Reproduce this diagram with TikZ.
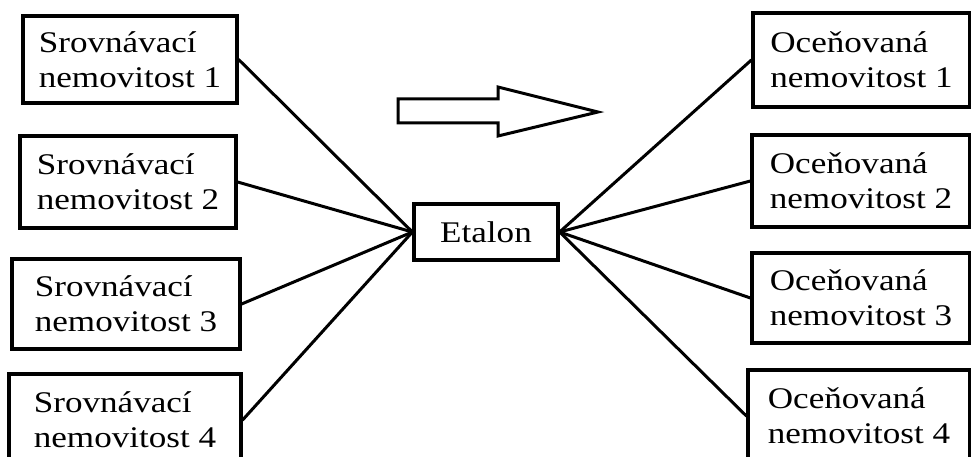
\documentclass[tikz,border=0pt]{standalone}
\usepackage{fontspec}
\setmainfont{Liberation Serif}[FakeStretch=1.17]
\usepackage{tikz}
\tikzset{
        boxnode/.style = {draw=black, line width=3.2pt, fill=white,
            rectangle, inner sep=0pt, align=left,
            font=\fontsize{30}{35}\selectfont},
        nem_l/.style = {boxnode},
        nem_r/.style = {boxnode},
        etal_n/.style = {boxnode, minimum width=144pt, minimum height=56pt},
        spoj/.style = {line width=3pt, line cap=round}
    }
\begin{document}
\begin{tikzpicture}[x=1pt,y=-1pt]
    \useasboundingbox (0,0) rectangle (971,457);
    \node [etal_n] (etalon) at (486,232) {Etalon}; % CENTRE
    % srovnavaci (left)
    \node [nem_l, minimum width=214pt, minimum height=87pt] (s1) at (130,59.5)
        {Srovnávací\\nemovitost~1};
    \node [nem_l, minimum width=216pt, minimum height=92pt] (s2) at (128,182)
        {Srovnávací\\nemovitost~2};
    \node [nem_l, minimum width=228pt, minimum height=90pt] (s3) at (126,304)
        {Srovnávací\\nemovitost~3};
    \node [nem_l, minimum width=232pt, minimum height=92pt] (s4) at (125,420)
        {Srovnávací\\nemovitost~4};
    % ocenovane (right)
    \node [nem_r, minimum width=217pt, minimum height=94pt] (o1) at (861.5,60)
        {Oceňovaná\\nemovitost~1};
    \node [nem_r, minimum width=218pt, minimum height=92pt] (o2) at (861,181)
        {Oceňovaná\\nemovitost~2};
    \node [nem_r, minimum width=218pt, minimum height=90pt] (o3) at (861,298)
        {Oceňovaná\\nemovitost~3};
    \node [nem_r, minimum width=222pt, minimum height=92pt] (o4) at (859,416)
        {Oceňovaná\\nemovitost~4};
    % spojnice
    \draw [spoj] (s1.east) -- (etalon.west);
    \draw [spoj] (s2.east) -- (etalon.west);
    \draw [spoj] (s3.east) -- (etalon.west);
    \draw [spoj] (s4.east) -- (etalon.west);
    \draw [spoj] (etalon.east) -- (o1.west);
    \draw [spoj] (etalon.east) -- (o2.west);
    \draw [spoj] (etalon.east) -- (o3.west);
    \draw [spoj] (etalon.east) -- (o4.west);
    % sipka
    \draw [line width=3pt, line join=miter] (398,99) -- (498,99) -- (498,87)
        -- (598,112) -- (498,136) -- (498,123) -- (398,123) -- cycle;
\end{tikzpicture}
\end{document}
